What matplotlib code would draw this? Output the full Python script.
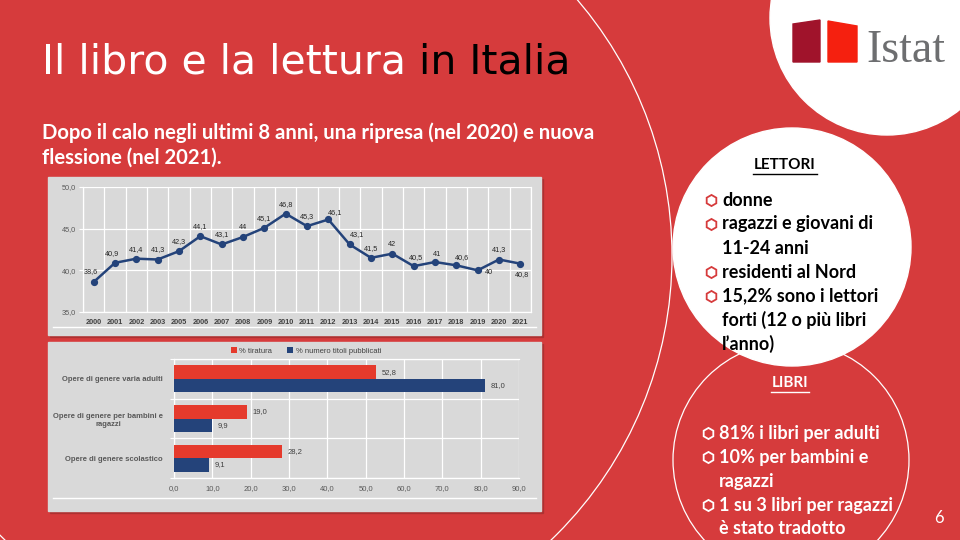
import numpy as np
import matplotlib.pyplot as plt
from matplotlib.patches import Circle, Rectangle, Polygon

# lettori di libri (% persone 6 anni e piu')
anni = ['2000', '2001', '2002', '2003', '2005', '2006', '2007', '2008', '2009', '2010',
        '2011', '2012', '2013', '2014', '2015', '2016', '2017', '2018', '2019', '2020', '2021']
lettori = [38.6, 40.9, 41.4, 41.3, 42.3, 44.1, 43.1, 44.0, 45.1, 46.8,
           45.3, 46.1, 43.1, 41.5, 42.0, 40.5, 41.0, 40.6, 40.0, 41.3, 40.8]
etichette = ['38,6', '40,9', '41,4', '41,3', '42,3', '44,1', '43,1', '44', '45,1', '46,8',
             '45,3', '46,1', '43,1', '41,5', '42', '40,5', '41', '40,6', '40', '41,3', '40,8']

# opere pubblicate per genere
generi = ['Opere di genere varia adulti',
          'Opere di genere per bambini e\nragazzi',
          'Opere di genere scolastico']
tiratura = [52.8, 19.0, 28.2]
titoli = [81.0, 9.9, 9.1]

# testi a destra
lettori_punti = ['donne', 'ragazzi e giovani di', '11-24 anni', 'residenti al Nord',
                 '15,2% sono i lettori', 'forti (12 o più libri', 'l\u2019anno)']
lettori_bullet = [True, True, False, True, True, False, False]
libri_punti = ['81% i libri per adulti', '10% per bambini e', 'ragazzi',
               '1 su 3 libri per ragazzi', 'è stato tradotto']
libri_bullet = [True, True, False, True, False]

ROSSO = '#D63B3C'
BLU = '#24437A'
ROSSO_BAR = '#E53A2C'
GRIGIO = '#D9D9D9'
FONT = 'Lato'
plt.rcParams['font.family'] = ['Liberation Sans', 'DejaVu Sans']

fig = plt.figure(figsize=(9.6, 5.4), dpi=100)
fig.patch.set_facecolor(ROSSO)
bg = fig.add_axes([0, 0, 1, 1])
bg.set_xlim(0, 960)
bg.set_ylim(540, 0)
bg.axis('off')


def box(l, t, r, b):
    return [l / 960, 1 - b / 540, (r - l) / 960, (b - t) / 540]


# cerchi decorativi
bg.add_patch(Circle((278, 256), 394, fill=False, ec='white', lw=0.9))
bg.add_patch(Circle((887, 18), 117, color='white'))
bg.add_patch(Circle((792, 247), 119, color='white'))
bg.add_patch(Circle((791, 460), 118, fill=False, ec='white', lw=0.9))

# logo
bg.add_patch(Polygon([(793, 24), (820, 20), (820, 62), (793, 62)], color='#A0132B'))
bg.add_patch(Polygon([(828, 21), (857, 26), (857, 62), (828, 62)], color='#F5200F'))
bg.text(866, 62, 'Istat', family='Liberation Serif', fontsize=33, color='#6D6E70',
        va='baseline', ha='left')

# titolo
t1 = bg.text(42, 73, 'Il libro e la lettura ', color='white', fontsize=29.5,
             family='DejaVu Sans', va='baseline')
bg.annotate('in Italia', xy=(1, 0), xycoords=t1, va='bottom', ha='left',
            color='black', fontsize=29.5, family='DejaVu Sans')
bg.text(42, 139, 'Dopo il calo negli ultimi 8 anni, una ripresa (nel 2020) e nuova',
        color='white', fontsize=14.6, family=FONT, fontweight='bold', va='baseline')
bg.text(42, 164, 'flessione (nel 2021).', color='white', fontsize=14.6, family=FONT,
        fontweight='bold', va='baseline')

# pannelli dei grafici
for top, h in [(177, 158), (342, 169)]:
    bg.add_patch(Rectangle((50, top + 2), 493, h, color='#9E2E2E', alpha=0.6))
    bg.add_patch(Rectangle((48, top), 493, h, color=GRIGIO))
bg.plot([53, 536], [327, 327], color='white', lw=1)
bg.plot([53, 536], [498, 498], color='white', lw=1)

# grafico 1: lettori
ax1 = fig.add_axes(box(83, 187, 531, 312))
ax1.set_facecolor(GRIGIO)
x = np.arange(len(anni))
ax1.plot(x, lettori, color=BLU, lw=1.8, marker='o', ms=4.2, zorder=3)
ax1.set_xlim(-0.5, len(anni) - 0.5)
ax1.set_ylim(35, 50)
ax1.set_yticks([35, 40, 45, 50])
ax1.set_yticklabels(['35,0', '40,0', '45,0', '50,0'])
ax1.set_xticks(x)
ax1.set_xticklabels(anni, fontweight='bold')
ax1.set_xticks(np.arange(-0.5, len(anni)), minor=True)
ax1.grid(which='minor', axis='x', color='white', lw=0.9)
ax1.grid(which='major', axis='y', color='white', lw=0.9)
ax1.tick_params(axis='x', which='both', length=0, labelsize=5.3, labelcolor='#404040', pad=5)
ax1.tick_params(axis='y', color='white', length=3, width=0.8, labelsize=5.3,
                labelcolor='#595959', pad=2)
for s in ax1.spines.values():
    s.set_color('white')
    s.set_linewidth(0.9)
ax1.spines['top'].set_visible(False)

spost = {0: (-3, 10), 1: (-3, 9), 11: (7, 7), 12: (7, 10), 15: (2, 9), 16: (2, 8),
         17: (6, 8), 18: (11, -2), 20: (2, -11)}
for i, (v, lab) in enumerate(zip(lettori, etichette)):
    ax1.annotate(lab, (i, v), xytext=spost.get(i, (0, 9.5)), textcoords='offset pixels',
                 ha='center', va='center', fontsize=5.2, color='#262626')

# grafico 2: opere per genere
ax2 = fig.add_axes(box(174, 359, 519, 478))
ax2.set_facecolor(GRIGIO)
y = np.arange(len(generi))
h = 0.34
ax2.barh(y - h / 2, tiratura, height=h, color=ROSSO_BAR, label='% tiratura', zorder=3)
ax2.barh(y + h / 2, titoli, height=h, color=BLU, label='% numero titoli pubblicati', zorder=3)
for yy, v in zip(y - h / 2, tiratura):
    ax2.text(v + 1.5, yy, f'{v:.1f}'.replace('.', ','), va='center', fontsize=5.5,
             color='#404040')
for yy, v in zip(y + h / 2, titoli):
    ax2.text(v + 1.5, yy, f'{v:.1f}'.replace('.', ','), va='center', fontsize=5.5,
             color='#404040')
ax2.set_xlim(0, 90)
ax2.set_ylim(2.5, -0.5)
ax2.set_xticks(np.arange(0, 91, 10))
ax2.set_xticklabels([f'{v:.1f}'.replace('.', ',') for v in np.arange(0, 91, 10)])
ax2.set_yticks(y)
ax2.set_yticklabels(generi, fontweight='bold', multialignment='center')
ax2.set_yticks([-0.5, 0.5, 1.5, 2.5], minor=True)
ax2.grid(which='major', axis='x', color='white', lw=0.9)
ax2.grid(which='minor', axis='y', color='white', lw=0.9)
ax2.tick_params(axis='y', which='major', length=0, labelsize=5.5, labelcolor='#595959', pad=8)
ax2.tick_params(axis='y', which='minor', color='white', length=3, width=0.8)
ax2.tick_params(axis='x', length=0, labelsize=5.5, labelcolor='#595959', pad=5)
for s in ax2.spines.values():
    s.set_color('white')
    s.set_linewidth(0.9)
ax2.spines['right'].set_visible(False)
maniglie, nomi = ax2.get_legend_handles_labels()
fig.legend(maniglie, nomi, loc='center', bbox_to_anchor=(306 / 960, 1 - 351 / 540), ncol=2,
           frameon=False, fontsize=5.5, handlelength=0.8, handleheight=0.8,
           handletextpad=0.3, columnspacing=2, labelcolor='#404040')

# box a destra
bg.text(785, 165, 'LETTORI', ha='center', va='center', fontsize=11, family=FONT,
        fontweight='bold', color='black')
bg.plot([753, 817], [174, 174], color='black', lw=1)
righe = [200, 224, 248, 272, 296, 320, 344]
for yy, testo, b in zip(righe, lettori_punti, lettori_bullet):
    if b:
        bg.plot(711, yy, marker='h', ms=8, mfc='none', mec=ROSSO, mew=1.3)
    bg.text(722, yy, testo, va='center', fontsize=13, family=FONT, fontweight='bold',
            color='black')

bg.text(790, 383, 'LIBRI', ha='center', va='center', fontsize=11, family=FONT,
        fontweight='bold', color='white')
bg.plot([771, 809], [392, 392], color='white', lw=1)
righe = [433, 457, 481, 505, 529]
for yy, testo, b in zip(righe, libri_punti, libri_bullet):
    if b:
        bg.plot(708, yy, marker='h', ms=8, mfc='none', mec='white', mew=1.3)
    bg.text(719, yy, testo, va='center', fontsize=13, family=FONT, fontweight='bold',
            color='white')

bg.text(939, 518, '6', ha='center', va='center', fontsize=12, family=FONT, color='white')

fig.savefig('out.png', dpi=100, facecolor=ROSSO)
